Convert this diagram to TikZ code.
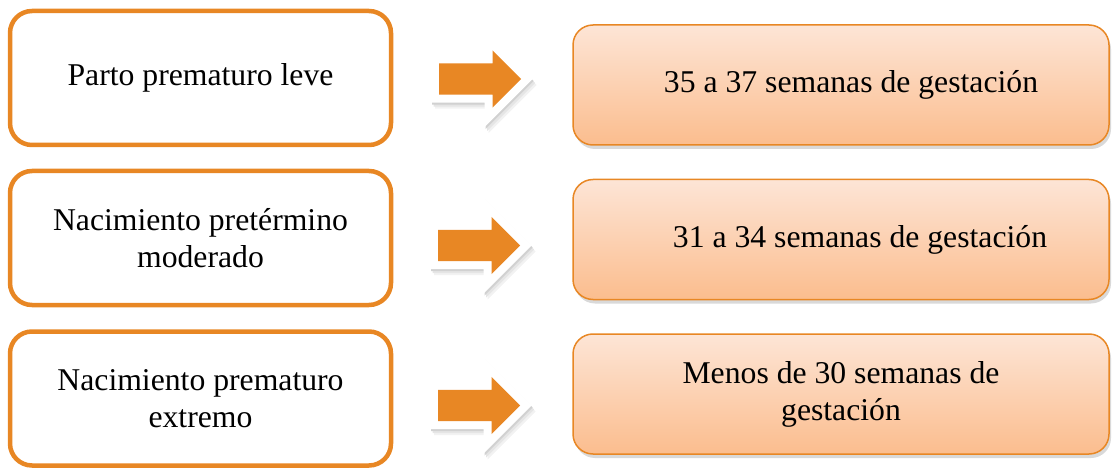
\documentclass[tikz,border=0pt]{standalone}
\usepackage{fontspec}
\setmainfont{Liberation Serif}
\usetikzlibrary{shapes.arrows,shadows}
\definecolor{naranja}{RGB}{232,135,36}
\definecolor{durazno}{RGB}{253,229,214}
\definecolor{duraznoosc}{RGB}{251,189,142}

\begin{document}
\begin{tikzpicture}[x=1pt, y=-1pt,
    font=\rmfamily\fontsize{31.7}{37}\selectfont,
    tipo/.style={draw=naranja, line width=4.5pt, rounded corners=22pt, fill=white,
        minimum width=381pt, minimum height=134pt, align=center, inner sep=0pt},
    rango/.style={draw=naranja, line width=1.5pt, rounded corners=20pt,
        top color=durazno, bottom color=duraznoosc, minimum width=536pt, minimum height=120pt,
        align=center, inner sep=0pt,
        drop shadow={shadow xshift=2pt, shadow yshift=-4pt, opacity=0.3}},
    flecha/.style={single arrow, fill=naranja, anchor=tail, minimum height=82pt,
        inner xsep=0pt, inner ysep=15.5pt,
        single arrow head extend=13pt, single arrow tip angle=90, single arrow head indent=0pt,
        general shadow={draw=black!5, fill=black!5, line width=16pt, shadow xshift=4pt, shadow yshift=-6pt},
        general shadow={draw=black!10, fill=black!10, line width=16pt, shadow xshift=2.5pt, shadow yshift=-4pt},
        general shadow={draw=black!18, fill=black!18, line width=16pt, shadow xshift=1pt, shadow yshift=-2pt},
        preaction={draw=white, line width=16pt}}]
    \useasboundingbox (0,0) rectangle (1112,468);
    % categorias
    \node[tipo] (t1) at (200.5,78) {Parto prematuro leve};
    \node[tipo] (t2) at (200.5,238) {Nacimiento pretérmino\\moderado};
    \node[tipo] (t3) at (200.5,398.5) {Nacimiento prematuro\\extremo};
    % semanas
    \node[rango] (r1) at (841,85) {\hspace*{20pt}35 a 37 semanas de gestación};
    \node[rango] (r2) at (841,239.5) {\hspace*{38pt}31 a 34 semanas de gestación};
    \node[rango] (r3) at (841,394) {Menos de 30 semanas de\\gestación};
    % flechas
    \node[flecha] (f1) at (439,79) {};
    \node[flecha] (f2) at (438,245.5) {};
    \node[flecha] (f3) at (438,405.5) {};
\end{tikzpicture}
\end{document}
